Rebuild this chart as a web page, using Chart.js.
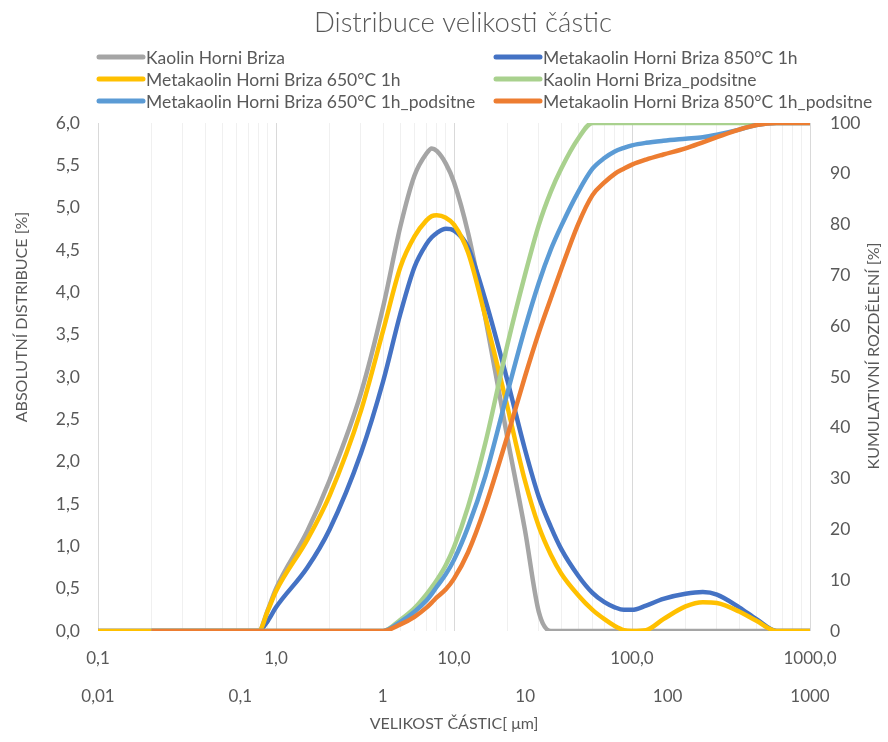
<!DOCTYPE html>
<html lang="cs">
<head>
<meta charset="utf-8">
<title>Distribuce velikosti částic</title>
<script src="https://cdn.jsdelivr.net/npm/chart.js@4.4.1/dist/chart.umd.min.js"></script>
<style>
  html, body { margin: 0; padding: 0; background: #fff; }
  #wrap { width: 888px; height: 742px; position: relative; }
</style>
</head>
<body>
<div id="wrap"><canvas id="psdChart"></canvas></div>
<script>
// particle size classes [µm]
const sizes = [0.1, 0.2, 0.5, 0.8, 0.9, 1, 1.5, 2, 3, 4, 5, 6, 7, 7.5, 8, 9, 10, 12, 15, 20,
               25, 30, 35, 40, 50, 60, 70, 80, 90, 100, 120, 150, 200, 250, 300, 400, 500, 650, 800, 1000];

// absolute distribution [%]
const kaolinAbs   = [0, 0, 0, 0, 0.25, 0.5, 1.18, 1.78, 2.81, 3.83, 4.78, 5.38, 5.64, 5.70, 5.67, 5.52, 5.3, 4.7, 3.7, 2.27,
                     1.2, 0.22, 0, 0, 0, 0, 0, 0, 0, 0, 0, 0, 0, 0, 0, 0, 0, 0, 0, 0];
const meta650Abs  = [0, 0, 0, 0, 0.24, 0.47, 1.08, 1.6, 2.6, 3.55, 4.3, 4.66, 4.85, 4.9, 4.91, 4.88, 4.8, 4.47, 3.71, 2.64,
                     1.78, 1.23, 0.9, 0.68, 0.42, 0.25, 0.14, 0.06, 0.01, 0, 0.01, 0.14, 0.29, 0.34, 0.33, 0.23, 0.12, 0, 0, 0];
const meta850Abs  = [0, 0, 0, 0, 0.12, 0.28, 0.75, 1.2, 2.1, 2.95, 3.75, 4.3, 4.57, 4.65, 4.7, 4.75, 4.73, 4.53, 3.91, 2.95,
                     2.15, 1.58, 1.23, 0.97, 0.65, 0.45, 0.34, 0.28, 0.25, 0.25, 0.3, 0.38, 0.44, 0.46, 0.43, 0.28, 0.14, 0, 0, 0];

// cumulative distribution [%]
const kaolinCum   = [null, 0, 0, 0, 0, 0, 0, 0, 0, 0, 2.2, 4.5, 7.2, 8.6, 10, 13, 16.5, 24.5, 37, 56.5,
                     70, 80, 86.5, 91, 97, 100, 100, 100, 100, 100, 100, 100, 100, 100, 100, 100, 100, 100, 100, 100];
const meta650Cum  = [null, 0, 0, 0, 0, 0, 0, 0, 0, 0, 1.8, 3.8, 6, 7.3, 8.7, 11.2, 14, 20.5, 30.5, 47,
                     59.5, 68.6, 75.1, 79.7, 86.5, 91, 93.1, 94.4, 95.1, 95.6, 96.1, 96.5, 96.9, 97.2, 97.7, 98.7, 99.6, 100, 100, 100];
const meta850Cum  = [null, 0, 0, 0, 0, 0, 0, 0, 0, 0, 1.3, 2.8, 4.6, 5.6, 6.6, 8.2, 10.3, 15.5, 24.5, 38.5,
                     50, 58.8, 65.5, 71.2, 80.2, 85.8, 88.3, 90, 91, 91.8, 92.8, 93.8, 95, 96.2, 97.2, 98.7, 99.6, 100, 100, 100];

const seriesNames = [
  'Kaolin Horni Briza',
  'Metakaolin Horni Briza 650°C 1h',
  'Metakaolin Horni Briza 850°C 1h',
  'Kaolin Horni Briza_podsitne',
  'Metakaolin Horni Briza 650°C 1h_podsitne',
  'Metakaolin Horni Briza 850°C 1h_podsitne'
];

// tick labels of the two size axes
const topTickValues = [0.1, 1, 10, 100, 1000];
const topTickLabels = ['0,1', '1,0', '10,0', '100,0', '1000,0'];
const lowTickValues = [0.01, 0.1, 1, 10, 100, 1000];
const lowTickLabels = ['0,01', '0,1', '1', '10', '100', '1000'];

const textColor = '#595959';
const fontFamily = 'Lato, "Open Sans", sans-serif';

function toPoints(values) {
  return sizes.map((s, i) => ({ x: s, y: values[i] }));
}

function line(label, values, color, axis, order) {
  return {
    label: label,
    data: toPoints(values),
    borderColor: color,
    backgroundColor: color,
    borderWidth: 4.5,
    pointRadius: 0,
    cubicInterpolationMode: 'monotone',
    yAxisID: axis,
    order: order
  };
}

// decade ticks plus the 2..9 minor positions (for the grid)
function logTicks(fromExp, toExp) {
  const ticks = [];
  for (let e = fromExp; e < toExp; e++) {
    for (let m = 1; m < 10; m++) {
      ticks.push({ value: +(m * Math.pow(10, e)).toPrecision(3) });
    }
  }
  ticks.push({ value: Math.pow(10, toExp) });
  return ticks;
}

// two-column legend drawn under the title
const gridLegend = {
  id: 'gridLegend',
  afterDraw(chart, args, opts) {
    const ctx = chart.ctx;
    ctx.save();
    ctx.font = opts.font;
    ctx.textBaseline = 'middle';
    ctx.textAlign = 'left';
    opts.cells.forEach((row, r) => {
      row.forEach((dsIndex, c) => {
        const ds = chart.data.datasets[dsIndex];
        const x = opts.columns[c];
        const y = opts.top + r * opts.rowHeight;
        ctx.strokeStyle = ds.borderColor;
        ctx.lineWidth = 5;
        ctx.lineCap = 'round';
        ctx.beginPath();
        ctx.moveTo(x + 2, y);
        ctx.lineTo(x + opts.lineLength - 2, y);
        ctx.stroke();
        ctx.fillStyle = textColor;
        ctx.fillText(ds.label, x + opts.lineLength + 1, y + 1);
      });
    });
    ctx.restore();
  }
};

// rotated titles of both value axes
const sideTitles = {
  id: 'sideTitles',
  afterDraw(chart, args, opts) {
    const ctx = chart.ctx;
    ctx.save();
    ctx.font = opts.font;
    ctx.fillStyle = textColor;
    ctx.textAlign = 'center';
    ctx.textBaseline = 'middle';
    opts.items.forEach(t => {
      ctx.save();
      ctx.translate(t.x, t.y);
      ctx.rotate(-Math.PI / 2);
      ctx.fillText(t.text, 0, 0);
      ctx.restore();
    });
    ctx.restore();
  }
};

const ctx = document.getElementById('psdChart').getContext('2d');

new Chart(ctx, {
  type: 'line',
  data: {
    datasets: [
      line(seriesNames[0], kaolinAbs, '#A5A5A5', 'y', 6),
      line(seriesNames[1], meta650Abs, '#FFC000', 'y', 4),
      line(seriesNames[2], meta850Abs, '#4472C4', 'y', 5),
      line(seriesNames[3], kaolinCum, '#A9D18E', 'y1', 3),
      line(seriesNames[4], meta650Cum, '#5B9BD5', 'y1', 2),
      line(seriesNames[5], meta850Cum, '#ED7D31', 'y1', 1)
    ]
  },
  plugins: [gridLegend, sideTitles],
  options: {
    responsive: true,
    maintainAspectRatio: false,
    animation: false,
    // left padding moves the centred title over the plot
    layout: { padding: { left: 38 } },
    plugins: {
      legend: { display: false },
      tooltip: { enabled: false },
      title: {
        display: true,
        text: 'Distribuce velikosti částic',
        color: textColor,
        font: { family: fontFamily, size: 27.5, weight: '300' },
        padding: { top: 7, bottom: 83 }
      },
      gridLegend: {
        font: '17.5px ' + fontFamily,
        cells: [[0, 2], [1, 3], [4, 5]],
        columns: [97, 494],
        lineLength: 48,
        top: 57,
        rowHeight: 22
      },
      sideTitles: {
        font: '16px ' + fontFamily,
        items: [
          { text: 'ABSOLUTNÍ DISTRIBUCE [%]', x: 22, y: 317 },
          { text: 'KUMULATIVNÍ ROZDĚLENÍ [%]', x: 874, y: 356 }
        ]
      }
    },
    scales: {
      x: {
        type: 'logarithmic',
        position: 'bottom',
        weight: 0,
        min: 0.1,
        max: 1000,
        afterBuildTicks: scale => { scale.ticks = logTicks(-1, 3); },
        afterFit: scale => { scale.height = 40; },
        grid: {
          drawTicks: false,
          color: c => (c.tick && topTickValues.includes(c.tick.value)) ? '#D9D9D9' : '#F0F0F0'
        },
        border: { display: false },
        ticks: {
          autoSkip: false,
          maxRotation: 0,
          padding: 17,
          color: textColor,
          font: { family: fontFamily, size: 17 },
          callback: v => {
            const i = topTickValues.indexOf(v);
            return i >= 0 ? topTickLabels[i] : '';
          }
        }
      },
      x2: {
        type: 'logarithmic',
        position: 'bottom',
        weight: 1,
        min: 0.01,
        max: 1000,
        afterBuildTicks: scale => { scale.ticks = lowTickValues.map(v => ({ value: v })); },
        afterFit: scale => { scale.height = 71; },
        grid: { display: false, drawTicks: false },
        border: { display: false },
        ticks: {
          autoSkip: false,
          maxRotation: 0,
          padding: 15,
          color: textColor,
          font: { family: fontFamily, size: 17 },
          callback: v => {
            const i = lowTickValues.indexOf(v);
            return i >= 0 ? lowTickLabels[i] : '';
          }
        },
        title: {
          display: true,
          text: 'VELIKOST ČÁSTIC[ μm]',
          color: textColor,
          font: { family: fontFamily, size: 16 },
          padding: { top: 2, bottom: 9 }
        }
      },
      y: {
        type: 'linear',
        position: 'left',
        min: 0,
        max: 6,
        afterFit: scale => { scale.width = 60; },
        grid: { display: false, drawTicks: false },
        border: { display: false },
        ticks: {
          stepSize: 0.5,
          padding: 18,
          color: textColor,
          font: { family: fontFamily, size: 17.5 },
          callback: v => v.toFixed(1).replace('.', ',')
        }
      },
      y1: {
        type: 'linear',
        position: 'right',
        min: 0,
        max: 100,
        afterFit: scale => { scale.width = 78; },
        grid: { display: false, drawTicks: false },
        border: { display: false },
        ticks: {
          stepSize: 10,
          padding: 20,
          color: textColor,
          font: { family: fontFamily, size: 17.5 }
        }
      }
    }
  }
});
</script>
</body>
</html>
